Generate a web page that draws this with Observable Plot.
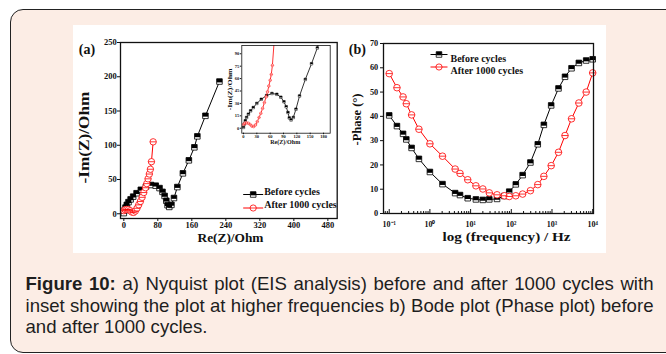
<!DOCTYPE html>
<html>
<head>
<meta charset="utf-8">
<script src="https://cdn.jsdelivr.net/npm/d3@7"></script>
<script src="https://cdn.jsdelivr.net/npm/@observablehq/plot@0.6"></script>
<style>
  html, body { margin: 0; padding: 0; background: #fff; width: 666px; height: 354px; overflow: hidden; }
  #box { position: absolute; left: 10px; top: 9px; width: 690px; height: 344px; background: #fcede5;
         border: 1.4px solid #222; border-radius: 13px; box-sizing: border-box; }
  #fig { position: absolute; left: 73px; top: 25px; width: 533px; height: 228px; background: #fff; }
  #fig svg { position: absolute; }
  .cap { position: absolute; left: 25.5px; width: 628px; font-family: "Liberation Sans", Arial, sans-serif;
         font-size: 18.6px; line-height: 21.5px; color: #1e1e1e; text-align: justify; text-align-last: justify; }
  .cap.last { text-align-last: left; }
</style>
</head>
<body>
<div id="box"></div>
<div id="fig"></div>
<div class="cap" style="top:273.3px"><b>Figure 10:</b> a) Nyquist plot (EIS analysis) before and after 1000 cycles with</div>
<div class="cap" style="top:294.8px">inset showing the plot at higher frequencies b) Bode plot (Phase plot) before</div>
<div class="cap last" style="top:316.3px">and after 1000 cycles.</div>
<script>
// ---------- Panel (a): Nyquist plot ----------
const reBefore = [0, 2, 4, 7, 11, 16, 22, 30, 40, 52, 64, 75, 84, 91, 96, 100, 103, 107, 112, 118, 126, 139, 153, 166, 173, 192, 225];
const imBefore = [1, 5, 9, 13, 17, 21, 25, 30, 35, 39.5, 42, 41, 37.5, 32, 26, 19, 12.5, 10, 13, 23, 39, 59, 78, 97, 113, 143, 193];
const reAfter  = [0, 3, 7, 11, 15, 19, 23, 27, 31, 35, 39, 43, 47, 51, 54, 57, 60, 62.5, 65, 69];
const imAfter  = [4.5, 6, 6.5, 6, 4.5, 2.5, 2, 4, 8, 13, 18, 24, 31, 38, 44, 51, 58, 65, 76, 105];

// ---------- Panel (b): Bode phase plot ----------
const freq = [0.1, 0.155, 0.219, 0.263, 0.355, 0.537, 1, 2.04, 4.17, 5.5, 8.5, 13.5, 20, 28.8, 44.7, 67.6, 89, 129, 190, 295, 447, 631, 955, 1445, 2089, 3020, 4571, 6918, 10000];
const phaseBefore = [40.4, 36, 32.8, 30.5, 27, 22.5, 17.1, 12.1, 8.4, 7.6, 6.3, 5.8, 5.6, 5.8, 6.0, 7.2, 9.0, 12, 15.8, 21, 28.5, 36.5, 44.5, 51.5, 56.3, 59.8, 62, 63, 63.5];
const phaseAfter  = [57.6, 51.8, 48, 45.2, 40.6, 34.7, 28.7, 23.6, 18.3, 16.5, 13.9, 11.4, 10.1, 8.5, 7.7, 7.3, 7.0, 7.3, 8.0, 9.4, 11.9, 15.3, 19.7, 25.2, 32.1, 39, 45.5, 50, 57.9];

// ---------- Ticks & labels ----------
const xTicksA = [0, 80, 160, 240, 320, 400, 480];
const yTicksA = [0, 50, 100, 150, 200, 250];
const xTicksInset = [0, 30, 60, 90, 120, 150, 180];
const yTicksInset = [0, 15, 30, 45, 60, 75, 90];
const xTicksB = [0.1, 1, 10, 100, 1000, 10000];
const xTickLabelsB = ["10\u207B\u00B9", "10\u2070", "10\u00B9", "10\u00B2", "10\u00B3", "10\u2074"];
const yTicksB = [0, 10, 20, 30, 40, 50, 60, 70];
const seriesNames = ["Before cycles", "After 1000 cycles"];
const colors = ["#000000", "#ff0000"];

// minor log ticks (2..9 x 10^k)
const minorB = [];
for (let e = -2; e <= 3; e++) for (let m = 2; m <= 9; m++) { const v = m * Math.pow(10, e); if (v > 0.0724 && v < 10470) minorB.push(v); }

// ---------- tables ----------
const nyBefore = reBefore.map((x, i) => ({x, y: imBefore[i]}));
const nyAfter = reAfter.map((x, i) => ({x, y: imAfter[i]}));
const bdBefore = freq.map((x, i) => ({x, y: phaseBefore[i]}));
const bdAfter = freq.map((x, i) => ({x, y: phaseAfter[i]}));

// ---------- custom symbols ----------
const rad = (size) => Math.sqrt(size / Math.PI);
const sqFull = {draw(c, s) { const r = rad(s) * 0.9; c.moveTo(-r, -r); c.lineTo(r, -r); c.lineTo(r, r); c.lineTo(-r, r); c.closePath(); }};
const sqTop = {draw(c, s) { const r = rad(s) * 0.9; c.moveTo(-r, -r); c.lineTo(r, -r); c.lineTo(r, 0.3 * r); c.lineTo(-r, 0.3 * r); c.closePath(); }};
const circMid = {draw(c, s) { const r = rad(s); c.moveTo(-r, 0); c.lineTo(r, 0); }};
const hline = (L) => ({draw(c) { c.moveTo(-L, 0); c.lineTo(L, 0); }});

const serif = "'Liberation Serif', 'Times New Roman', serif";

function markerMarks(data, pos, kind, r, color, sw = 0.8) {
  if (kind === "sq") return [
    Plot.dot(data, {...pos, symbol: sqFull, r, fill: "white", stroke: color, strokeWidth: sw}),
    Plot.dot(data, {...pos, symbol: sqTop, r, fill: color, stroke: "none"})
  ];
  return [
    Plot.dot(data, {...pos, symbol: "circle", r, fill: "white", stroke: color, strokeWidth: sw}),
    Plot.dot(data, {...pos, symbol: circMid, r, fill: "none", stroke: color, strokeWidth: sw})
  ];
}

function legendMarks(anchor, lineDx, textDx, dys, L, r, fontSize) {
  const out = [];
  seriesNames.forEach((name, i) => {
    const pos = {frameAnchor: anchor, dx: lineDx, dy: dys[i]};
    out.push(Plot.dot([name], {...pos, symbol: hline(L), r: 1, fill: "none", stroke: colors[i], strokeWidth: 1}));
    out.push(...markerMarks([name], pos, i === 0 ? "sq" : "circ", r, colors[i]));
    out.push(Plot.text([name], {frameAnchor: anchor, dx: textDx, dy: dys[i], textAnchor: "start", fontSize, fontWeight: "bold", fill: "#111"}));
  });
  return out;
}

const baseStyle = {background: "transparent", fontFamily: serif, color: "#111", overflow: "visible"};

// ---------- Plot (a) ----------
const plotA = Plot.plot({
  width: 267, height: 228,
  marginLeft: 47, marginRight: 3.3, marginTop: 17, marginBottom: 35,
  style: baseStyle,
  x: {domain: [-7.8, 502]},
  y: {domain: [-6.9, 250]},
  marks: [
    Plot.axisX(xTicksA, {tickSize: 3, tickPadding: 0.8, fontSize: 8.5, fontWeight: "bold", label: null}),
    Plot.axisY(yTicksA, {tickSize: 3, tickPadding: 0.8, fontSize: 8.5, fontWeight: "bold", label: null}),
    Plot.line(nyBefore, {x: "x", y: "y", stroke: colors[0], strokeWidth: 1}),
    ...markerMarks(nyBefore, {x: "x", y: "y"}, "sq", 3.1, colors[0]),
    Plot.line(nyAfter, {x: "x", y: "y", stroke: colors[1], strokeWidth: 1}),
    ...markerMarks(nyAfter, {x: "x", y: "y"}, "circ", 3.2, colors[1]),
    Plot.frame({stroke: "#111", strokeWidth: 1.3}),
    ...legendMarks("bottom-right", -84, -73, [-24, -10.5], 10, 3.1, 10),
    Plot.text(["(a)"], {frameAnchor: "top-left", dx: -41.7, dy: 1.3, textAnchor: "start", fontSize: 14, fontWeight: "bold", fill: "#111"}),
    Plot.text(["Re(Z)/Ohm"], {frameAnchor: "bottom-left", dx: 77, dy: 23, textAnchor: "start", fontSize: 13, fontWeight: "bold", fill: "#111"}),
    Plot.text(["-Im(Z)/Ohm"], {frameAnchor: "left", dx: -36.3, dy: 53, rotate: -90, textAnchor: "start", fontSize: 14, fontWeight: "bold", fill: "#111"})
  ]
});

// ---------- Inset of (a) ----------
const plotInset = Plot.plot({
  width: 112, height: 110,
  marginLeft: 19.3, marginRight: 4.3, marginTop: 7, marginBottom: 15.3,
  style: baseStyle,
  x: {domain: [-3.8, 195]},
  y: {domain: [-6, 100]},
  marks: [
    Plot.axisX(xTicksInset, {tickSize: 1.5, tickPadding: 0, fontSize: 4.5, fontWeight: "bold", label: null}),
    Plot.axisY(yTicksInset, {tickSize: 1.5, tickPadding: 1, fontSize: 4.5, fontWeight: "bold", label: null}),
    Plot.line(nyBefore, {x: "x", y: "y", stroke: colors[0], strokeWidth: 0.8, clip: true}),
    ...markerMarks(nyBefore, {x: "x", y: "y", clip: true}, "sq", 1.4, colors[0], 0.5),
    Plot.line(nyAfter, {x: "x", y: "y", stroke: colors[1], strokeWidth: 0.8, clip: true}),
    ...markerMarks(nyAfter, {x: "x", y: "y", clip: true}, "circ", 1.3, colors[1], 0.5),
    Plot.frame({stroke: "#111", strokeWidth: 0.8}),
    Plot.text(["Re(Z)/Ohm"], {frameAnchor: "bottom-left", dx: 28.4, dy: 10.5, textAnchor: "start", fontSize: 5.5, fontWeight: "bold", fill: "#111"}),
    Plot.text(["-Im(Z)/Ohm"], {frameAnchor: "left", dx: -11.3, dy: 21, rotate: -90, textAnchor: "start", fontSize: 5.5, fontWeight: "bold", fill: "#111"})
  ]
});

// ---------- Plot (b) ----------
const plotB = Plot.plot({
  width: 266, height: 228,
  marginLeft: 43, marginRight: 13, marginTop: 18, marginBottom: 40,
  style: baseStyle,
  x: {type: "log", domain: [0.0724, 10470]},
  y: {domain: [0, 70]},
  marks: [
    Plot.axisX(minorB, {tickSize: -2, tickFormat: () => "", label: null}),
    Plot.axisX(xTicksB, {tickSize: -4, tickPadding: 12, tickFormat: d => xTickLabelsB[xTicksB.indexOf(d)], fontSize: 8, fontWeight: "bold", label: null}),
    Plot.axisY(yTicksB, {tickSize: 3, tickPadding: 2.3, fontSize: 8.3, fontWeight: "bold", label: null}),
    Plot.line(bdBefore, {x: "x", y: "y", stroke: colors[0], strokeWidth: 1}),
    ...markerMarks(bdBefore, {x: "x", y: "y"}, "sq", 3.1, colors[0]),
    Plot.line(bdAfter, {x: "x", y: "y", stroke: colors[1], strokeWidth: 1}),
    ...markerMarks(bdAfter, {x: "x", y: "y"}, "circ", 3.3, colors[1]),
    Plot.frame({stroke: "#111", strokeWidth: 1.3}),
    ...legendMarks("top-left", 55.5, 67, [11, 23.5], 8.5, 3.1, 10),
    Plot.text(["(b)"], {frameAnchor: "top-left", dx: -34.7, dy: 1, textAnchor: "start", fontSize: 14, fontWeight: "bold", fill: "#111"}),
    Plot.text(["log (frequency) / Hz"], {frameAnchor: "bottom-left", dx: 59, dy: 27.7, textAnchor: "start", fontSize: 13, fontWeight: "bold", fill: "#111"}),
    Plot.text(["-Phase (\u00B0)"], {frameAnchor: "left", dx: -27, dy: 17, rotate: -90, textAnchor: "start", fontSize: 13, fontWeight: "bold", fill: "#111"})
  ]
});

function stretch(svg, str, len) {
  svg.querySelectorAll("text").forEach(t => {
    if (t.textContent === str) { t.setAttribute("textLength", len); t.setAttribute("lengthAdjust", "spacingAndGlyphs"); }
  });
}
stretch(plotA, "-Im(Z)/Ohm", 92);
stretch(plotA, "Re(Z)/Ohm", 66);
stretch(plotB, "log (frequency) / Hz", 128);
stretch(plotB, "-Phase (\u00B0)", 52);
stretch(plotInset, "-Im(Z)/Ohm", 42);
stretch(plotInset, "Re(Z)/Ohm", 30);

const fig = document.getElementById("fig");
plotA.style.left = "0px"; plotA.style.top = "0px";
plotB.style.left = "267px"; plotB.style.top = "0px";
plotInset.style.left = (222 - 73) + "px"; plotInset.style.top = (38 - 25) + "px";
fig.appendChild(plotA);
fig.appendChild(plotB);
fig.appendChild(plotInset);
</script>
</body>
</html>
